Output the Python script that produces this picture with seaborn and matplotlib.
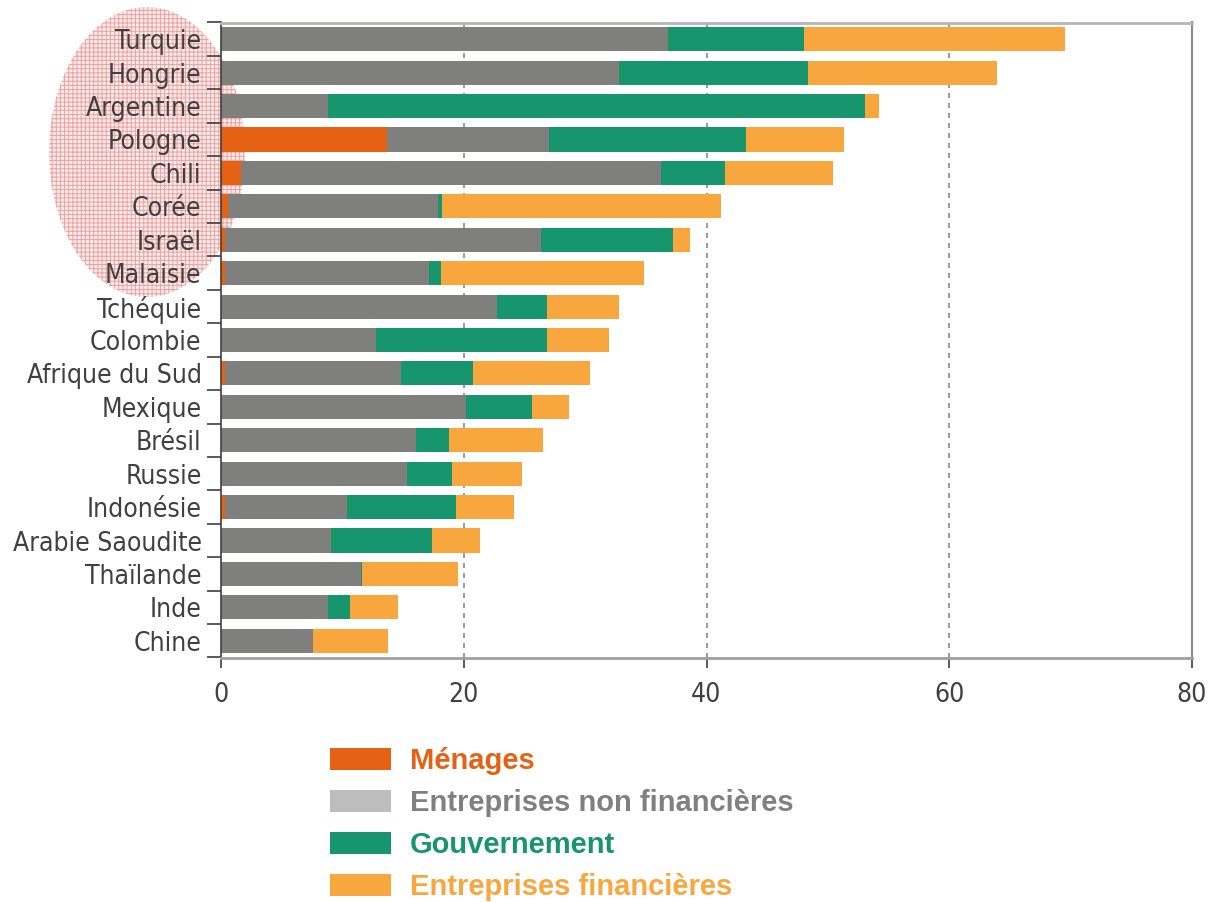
import matplotlib.pyplot as plt
import numpy as np
import pandas as pd
import seaborn as sns
from matplotlib import font_manager
from matplotlib.patches import Ellipse, Patch

countries = [
    "Turquie", "Hongrie", "Argentine", "Pologne", "Chili", "Corée", "Israël",
    "Malaisie", "Tchéquie", "Colombie", "Afrique du Sud", "Mexique", "Brésil",
    "Russie", "Indonésie", "Arabie Saoudite", "Thaïlande", "Inde", "Chine",
]
menages = [0.0, 0.0, 0.0, 13.7, 1.65, 0.55, 0.35, 0.35, 0.0, 0.0, 0.35, 0.0, 0.0,
           0.0, 0.35, 0.0, 0.0, 0.0, 0.0]
entreprises_nf = [36.85, 32.8, 8.85, 13.35, 34.6, 17.3, 26.05, 16.75, 22.7, 12.75,
                  14.5, 20.2, 16.1, 15.35, 10.05, 9.1, 11.5, 8.85, 7.55]
gouvernement = [11.2, 15.55, 44.2, 16.2, 5.25, 0.35, 10.8, 1.05, 4.2, 14.15, 5.95,
                5.45, 2.7, 3.7, 9.0, 8.25, 0.15, 1.8, 0.0]
entreprises_f = [21.45, 15.55, 1.2, 8.05, 8.9, 23.0, 1.4, 16.7, 5.9, 5.1, 9.6,
                 3.05, 7.75, 5.75, 4.7, 4.0, 7.9, 3.9, 6.25]

labels = ["Ménages", "Entreprises non financières", "Gouvernement",
          "Entreprises financières"]
colors = ["#E56214", "#7F7F7D", "#17956C", "#F8A73F"]
legend_colors = ["#E56214", "#BDBDBD", "#17956C", "#F8A73F"]
text_colors = ["#E56214", "#808080", "#17956C", "#F8A73F"]

df = pd.DataFrame({
    "pays": countries,
    "m": menages,
    "nf": entreprises_nf,
    "g": gouvernement,
    "f": entreprises_f,
})
df["c1"] = df["m"]
df["c2"] = df["c1"] + df["nf"]
df["c3"] = df["c2"] + df["g"]
df["c4"] = df["c3"] + df["f"]

# narrow font for the axis labels if one is around
names = {f.name for f in font_manager.fontManager.ttflist}
cond = font_manager.FontProperties(family="DejaVu Sans", stretch="condensed")
if "Liberation Sans Narrow" in names:
    tick_font = dict(fontfamily="Liberation Sans Narrow")
    ysize, xsize = 22, 20
elif "Condensed" in font_manager.findfont(cond):
    tick_font = dict(fontfamily="DejaVu Sans", fontstretch="condensed")
    ysize, xsize = 19, 19
else:
    tick_font = dict(fontfamily="Liberation Sans")
    ysize, xsize = 18.5, 18

plt.rcParams["hatch.linewidth"] = 0.7

fig = plt.figure(figsize=(12.09, 9.02), dpi=100)
ax = fig.add_axes([221 / 1209, 1 - 657.5 / 902, (1192 - 221) / 1209, (657.5 - 22.5) / 902])
ax.set_facecolor("none")

# highlighted group behind the labels
ell = Ellipse((147 / 1209, 1 - 152 / 902), 196 / 1209, 290 / 902,
              transform=fig.transFigure, facecolor="#fbeaea", edgecolor="#e9a3a3",
              hatch="++++", linewidth=0, zorder=-1)
fig.patches.append(ell)

# stacked bars drawn as overlapping cumulative totals
for col, color in zip(["c4", "c3", "c2", "c1"], colors[::-1]):
    sns.barplot(data=df, x=col, y="pays", order=countries, orient="h",
                color=color, width=0.72, saturation=1, linewidth=0, ax=ax)

ax.set_xlim(0, 80)
ax.set_ylim(18.5, -0.5)
ax.set_xticks([0, 20, 40, 60, 80])
ax.set_xlabel("")
ax.set_ylabel("")
for x in [20, 40, 60]:
    ax.axvline(x, color="#8a8a8a", lw=1.2, ls=(0, (3, 3)), zorder=0)

ax.set_yticks(np.arange(len(countries)))
ax.set_yticklabels(countries)
ax.set_yticks(np.arange(-0.5, len(countries)), minor=True)
ax.tick_params(axis="y", which="major", length=0, pad=14, labelcolor="#404040")
ax.tick_params(axis="y", which="minor", length=10, width=1.2, color="#404040",
               direction="out")
ax.tick_params(axis="x", length=7, width=1.2, color="#404040", pad=11,
               labelcolor="#404040")
for lab in ax.get_yticklabels():
    lab.set(fontsize=ysize, **tick_font)
for lab in ax.get_xticklabels():
    lab.set(fontsize=xsize, **tick_font)

ax.spines["left"].set_color("#404040")
ax.spines["left"].set_linewidth(1.2)
ax.spines["bottom"].set_color("#a0a0a0")
ax.spines["bottom"].set_linewidth(2)
ax.spines["top"].set_color("#b5b5b5")
ax.spines["top"].set_linewidth(2)
ax.spines["right"].set_color("#8a8a8a")
ax.spines["right"].set_linewidth(1.5)

handles = [Patch(facecolor=c, edgecolor="none") for c in legend_colors]
leg = fig.legend(handles, labels, loc="upper left",
                 bbox_to_anchor=(330 / 1209, 1 - 747 / 902), frameon=False,
                 borderpad=0, borderaxespad=0, handlelength=2.1, handleheight=0.76,
                 handletextpad=0.65, labelspacing=0.48,
                 prop={"family": "Liberation Sans", "weight": "bold", "size": 21})
for txt, c in zip(leg.get_texts(), text_colors):
    txt.set_color(c)

fig.savefig("out.png", dpi=100)
